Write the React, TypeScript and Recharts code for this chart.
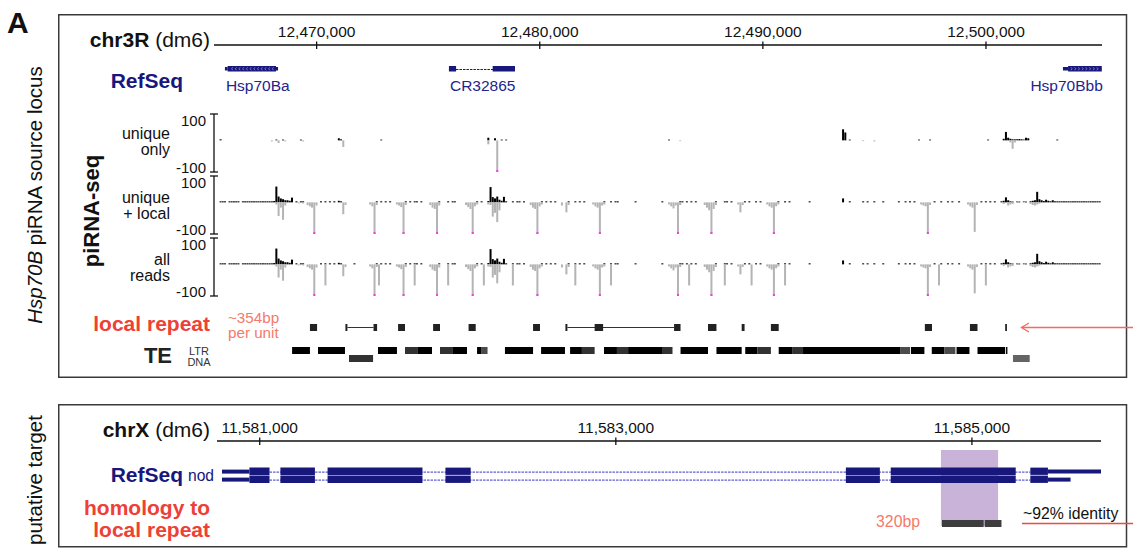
import React from 'react';
import { BarChart, Bar, XAxis, YAxis, Cell, LabelList } from 'recharts';

const W = 1133;
const FONT = '"Liberation Sans", Arial, Helvetica, sans-serif';
const NAVY = '#17177c';
const RED = '#ee4036';
const SALMON = '#f47a6a';
const CLIP = 120; // floor of the piRNA tracks, deeper bars get a magenta tip

// ---------- chr3R (dm6), Hsp70B locus ----------
const chr3rDomain: [number, number] = [12465400, 12505200];
const chr3rTicks = [12470000, 12480000, 12490000, 12500000];

const refGenes = [
  { name: 'Hsp70Ba', start: 12465890, end: 12468270, strand: '-' },
  { name: 'CR32865', start: 12475930, end: 12478890, strand: '+' },
  { name: 'Hsp70Bbb', start: 12503450, end: 12505190, strand: '+' },
];
// [start, end, kind, gene]
const refExons: [number, number, 'utr' | 'cds', string][] = [
  [12465890, 12466010, 'utr', 'Hsp70Ba'],
  [12466010, 12468180, 'cds', 'Hsp70Ba'],
  [12468180, 12468270, 'utr', 'Hsp70Ba'],
  [12475930, 12476250, 'cds', 'CR32865'],
  [12477890, 12478890, 'cds', 'CR32865'],
  [12503450, 12503680, 'utr', 'Hsp70Bbb'],
  [12503680, 12505190, 'cds', 'Hsp70Bbb'],
];

// piRNA coverage: [position, plus-strand reads, minus-strand reads]
type Cov = [number, number, number];
const uniqueOnly: Cov[] = [
  [12465700, 4, 0], [12468000, 0, -4], [12468200, 3, 0], [12468300, 0, -10], [12468500, 3, 0],
  [12468600, 0, -4], [12469300, 3, 0], [12469400, 0, -4], [12471000, 8, 0], [12471100, 4, 0],
  [12471200, 0, -25], [12472900, 3, 0], [12477700, 10, -15], [12478000, 8, 0], [12478100, 0, -260],
  [12478300, 3, 0], [12478500, 3, 0], [12485800, 3, 0], [12486300, 0, -3], [12493600, 42, 0],
  [12493700, 30, 0], [12493900, 3, 0], [12494500, 0, -3], [12495000, 0, -4], [12497000, 3, 0],
  [12497500, 3, 0], [12500100, 3, 0], [12500800, 6, 0], [12500900, 32, 0], [12501000, 10, 0],
  [12501100, 6, -8], [12501200, 4, -32], [12501300, 4, -8], [12501400, 4, 0], [12501500, 5, 0],
  [12501600, 4, 0], [12501700, 3, 0], [12501800, 10, 0], [12501900, 8, 0], [12503200, 3, 0],
];

const uniqueLocal: Cov[] = [
  [12465700, 4, 0], [12465800, 4, 0], [12465900, 4, 0], [12466100, 4, 0], [12466200, 4, 0],
  [12466300, 4, 0], [12466400, 4, 0], [12466500, 4, 0], [12466700, 4, 0], [12466800, 4, 0],
  [12466900, 4, 0], [12467000, 4, 0], [12467100, 4, 0], [12467200, 4, 0], [12467300, 4, 0],
  [12467400, 4, 0], [12467500, 4, 0], [12467600, 4, 0], [12467700, 4, 0], [12467800, 4, 0],
  [12467900, 4, 0], [12468000, 4, 0], [12468100, 5, 0], [12468200, 60, -8], [12468300, 22, -52],
  [12468400, 15, -20], [12468500, 12, -66], [12468600, 8, -12], [12468700, 8, 0], [12468800, 6, 0],
  [12468900, 18, 0], [12469100, 4, 0], [12469200, 0, -4], [12469300, 4, 0], [12469400, 4, -4],
  [12469600, 0, -10], [12469700, 0, -15], [12469800, 0, -20], [12469900, 0, -260], [12470000, 0, -12],
  [12470200, 4, 0], [12470400, 4, 0], [12470600, 4, 0], [12470800, 4, 0], [12471000, 6, 0],
  [12471100, 4, 0], [12471200, 0, -45], [12471300, 0, -10], [12472400, 0, -8], [12472500, 0, -15],
  [12472600, 0, -260], [12472700, 4, -10], [12472900, 4, 0], [12473100, 4, 0], [12473300, 4, 0],
  [12473600, 0, -8], [12473700, 0, -12], [12473800, 0, -18], [12473900, 0, -260], [12474000, 4, -10],
  [12474200, 4, 0], [12474400, 4, 0], [12474500, 4, 0], [12474700, 4, 0], [12475100, 0, -10],
  [12475200, 0, -20], [12475300, 0, -25], [12475400, 0, -260], [12475500, 4, -12], [12475900, 4, 0],
  [12476100, 4, 0], [12476200, 4, 0], [12476700, 0, -10], [12476800, 0, -18], [12476900, 0, -25],
  [12477000, 0, -260], [12477100, 0, -15], [12477200, 4, -8], [12477400, 4, 0], [12477700, 5, -8],
  [12477800, 58, -10], [12477900, 20, -54], [12478000, 15, -40], [12478100, 22, -75], [12478200, 10, -30],
  [12478300, 6, 0], [12478400, 21, 0], [12478500, 4, 0], [12478800, 4, 0], [12479000, 4, 0],
  [12479100, 4, 0], [12479300, 4, 0], [12479600, 0, -10], [12479700, 0, -20], [12479800, 0, -25],
  [12479900, 0, -260], [12480000, 0, -15], [12480100, 4, -8], [12480300, 4, 0], [12480500, 4, 0],
  [12480700, 4, 0], [12481000, 0, -12], [12481200, 0, -38], [12481300, 4, -10], [12481600, 4, 0],
  [12481800, 4, 0], [12482000, 4, 0], [12482400, 0, -8], [12482500, 0, -15], [12482600, 0, -20],
  [12482700, 0, -260], [12482800, 0, -12], [12482900, 4, -8], [12483200, 4, 0], [12483400, 4, 0],
  [12483500, 4, 0], [12484300, 4, 0], [12485500, 4, 0], [12485800, 0, -8], [12485900, 0, -15],
  [12486000, 0, -23], [12486100, 0, -12], [12486200, 0, -260], [12486300, 4, -10], [12486400, 4, 0],
  [12486600, 4, 0], [12486800, 4, 0], [12487000, 4, 0], [12487400, 0, -10], [12487500, 0, -20],
  [12487600, 0, -30], [12487700, 0, -260], [12487800, 0, -25], [12487900, 4, -10], [12488300, 4, 0],
  [12488400, 4, 0], [12488600, 4, 0], [12488900, 0, -8], [12489000, 0, -38], [12489100, 0, -10],
  [12489200, 4, 0], [12489400, 4, 0], [12489700, 4, 0], [12489900, 4, 0], [12490200, 0, -8],
  [12490300, 0, -15], [12490400, 0, -20], [12490500, 0, -260], [12490600, 0, -15], [12490700, 4, -8],
  [12491000, 4, 0], [12491200, 4, 0], [12492100, 4, 0], [12493600, 15, 0], [12493900, 4, 0],
  [12494500, 4, 0], [12494700, 4, 0], [12495000, 4, 0], [12495400, 4, 0], [12496100, 4, 0],
  [12496400, 4, 0], [12496600, 4, 0], [12496800, 4, 0], [12497100, 0, -8], [12497200, 0, -12],
  [12497300, 0, -15], [12497400, 0, -260], [12497500, 0, -10], [12497700, 4, 0], [12498000, 4, 0],
  [12498300, 4, 0], [12498500, 4, 0], [12498800, 4, 0], [12499200, 0, -8], [12499300, 0, -15],
  [12499400, 0, -20], [12499500, 0, -112], [12499600, 0, -10], [12499800, 4, 0], [12500000, 4, 0],
  [12500200, 4, 0], [12500400, 4, 0], [12500700, 4, 0], [12500800, 6, -6], [12500900, 19, 0],
  [12501000, 8, -12], [12501100, 4, -8], [12501200, 3, -6], [12501400, 3, 0], [12501500, 3, 0],
  [12501700, 3, 0], [12501800, 3, 0], [12502000, 4, -6], [12502100, 6, -10], [12502200, 8, -12],
  [12502300, 40, -8], [12502400, 12, -5], [12502500, 8, 0], [12502600, 5, 0], [12502700, 10, 0],
  [12502800, 6, 0], [12502900, 4, 0], [12503000, 8, 0], [12503100, 4, 0], [12503200, 4, 0],
  [12503300, 4, -3], [12503400, 4, 0], [12503500, 4, 0], [12503600, 4, 0], [12503700, 4, 0],
  [12503800, 4, -3], [12503900, 4, 0], [12504000, 4, 0], [12504100, 4, 0], [12504200, 4, 0],
  [12504300, 4, 0], [12504400, 4, -3], [12504500, 4, 0], [12504600, 4, 0], [12504700, 4, 0],
  [12504800, 4, 0], [12504900, 4, 0], [12505000, 4, 0], [12505100, 4, 0],
];

const allReads: Cov[] = [
  [12465700, 4, 0], [12465800, 4, 0], [12465900, 4, 0], [12466100, 4, 0], [12466200, 4, 0],
  [12466300, 4, 0], [12466400, 4, 0], [12466500, 4, 0], [12466700, 4, 0], [12466800, 4, 0],
  [12466900, 4, 0], [12467000, 4, 0], [12467100, 4, 0], [12467200, 4, 0], [12467300, 4, 0],
  [12467400, 4, 0], [12467500, 4, 0], [12467600, 4, 0], [12467700, 4, 0], [12467800, 4, 0],
  [12467900, 4, 0], [12468000, 4, 0], [12468100, 5, 0], [12468200, 60, -8], [12468300, 22, -50],
  [12468400, 15, -20], [12468500, 12, -62], [12468600, 8, -12], [12468700, 8, 0], [12468800, 6, 0],
  [12468900, 18, 0], [12469100, 4, 0], [12469200, 0, -4], [12469300, 4, 0], [12469400, 4, -4],
  [12469600, 0, -10], [12469700, 0, -15], [12469800, 0, -20], [12469900, 0, -260], [12470000, 0, -12],
  [12470200, 4, 0], [12470400, 4, -80], [12470600, 4, 0], [12470800, 4, 0], [12471000, 6, 0],
  [12471100, 4, 0], [12471200, 0, -45], [12471300, 0, -10], [12471700, 4, 0], [12472400, 0, -8],
  [12472500, 0, -15], [12472600, 0, -260], [12472700, 4, -10], [12472800, 0, -80], [12472900, 4, 0],
  [12473100, 4, 0], [12473300, 4, 0], [12473600, 0, -8], [12473700, 0, -12], [12473800, 0, -18],
  [12473900, 0, -260], [12474000, 4, -10], [12474200, 4, 0], [12474400, 4, -80], [12474500, 4, 0],
  [12474700, 4, 0], [12475100, 0, -10], [12475200, 0, -20], [12475300, 0, -25], [12475400, 0, -260],
  [12475500, 4, -12], [12475900, 4, -80], [12476100, 4, 0], [12476200, 4, 0], [12476700, 0, -10],
  [12476800, 0, -18], [12476900, 0, -25], [12477000, 0, -260], [12477100, 0, -15], [12477200, 4, -8],
  [12477400, 4, 0], [12477500, 0, -80], [12477700, 5, -8], [12477800, 58, -10], [12477900, 20, -50],
  [12478000, 15, -40], [12478100, 22, -72], [12478200, 10, -30], [12478300, 6, 0], [12478400, 21, 0],
  [12478500, 4, 0], [12478800, 4, -80], [12479000, 4, 0], [12479100, 4, 0], [12479300, 4, 0],
  [12479600, 0, -10], [12479700, 0, -20], [12479800, 0, -25], [12479900, 0, -260], [12480000, 0, -15],
  [12480100, 4, -8], [12480300, 4, 0], [12480500, 4, 0], [12480700, 4, 0], [12481000, 0, -12],
  [12481200, 0, -38], [12481300, 4, -10], [12481600, 4, -80], [12481800, 4, 0], [12482000, 4, 0],
  [12482400, 0, -8], [12482500, 0, -15], [12482600, 0, -20], [12482700, 0, -260], [12482800, 0, -12],
  [12482900, 4, -8], [12483200, 4, -80], [12483400, 4, 0], [12483500, 4, 0], [12484300, 4, 0],
  [12485500, 4, 0], [12485800, 0, -8], [12485900, 0, -15], [12486000, 0, -23], [12486100, 0, -12],
  [12486200, 0, -260], [12486300, 4, -10], [12486400, 4, 0], [12486600, 4, 0], [12486700, 0, -80],
  [12486800, 4, 0], [12487000, 4, 0], [12487400, 0, -10], [12487500, 0, -20], [12487600, 0, -30],
  [12487700, 0, -260], [12487800, 0, -25], [12487900, 4, -10], [12488300, 4, -80], [12488400, 4, 0],
  [12488600, 4, 0], [12488900, 0, -8], [12489000, 0, -38], [12489100, 0, -10], [12489200, 4, 0],
  [12489400, 4, 0], [12489500, 0, -80], [12489700, 4, 0], [12489900, 4, 0], [12490200, 0, -8],
  [12490300, 0, -15], [12490400, 0, -20], [12490500, 0, -260], [12490600, 0, -15], [12490700, 4, -8],
  [12491000, 4, -80], [12491200, 4, 0], [12492100, 4, 0], [12493600, 15, 0], [12493900, 4, 0],
  [12494500, 4, 0], [12494700, 4, 0], [12495000, 4, 0], [12495400, 4, 0], [12496100, 4, 0],
  [12496400, 4, 0], [12496600, 4, 0], [12496800, 4, 0], [12497100, 0, -8], [12497200, 0, -12],
  [12497300, 0, -15], [12497400, 0, -260], [12497500, 0, -10], [12497700, 4, 0], [12497900, 0, -80],
  [12498000, 4, 0], [12498300, 4, 0], [12498500, 4, 0], [12498800, 4, 0], [12499200, 0, -8],
  [12499300, 0, -15], [12499400, 0, -20], [12499500, 0, -110], [12499600, 0, -10], [12499800, 4, 0],
  [12500000, 4, -80], [12500200, 4, 0], [12500400, 4, 0], [12500700, 4, 0], [12500800, 6, -6],
  [12500900, 19, 0], [12501000, 8, -12], [12501100, 4, -8], [12501200, 3, -6], [12501400, 3, 0],
  [12501500, 3, 0], [12501700, 3, 0], [12501800, 3, 0], [12502000, 4, -6], [12502100, 6, -10],
  [12502200, 8, -12], [12502300, 40, -8], [12502400, 12, -5], [12502500, 8, 0], [12502600, 5, 0],
  [12502700, 10, 0], [12502800, 6, 0], [12502900, 4, 0], [12503000, 8, 0], [12503100, 4, 0],
  [12503200, 4, 0], [12503300, 4, -3], [12503400, 4, 0], [12503500, 4, 0], [12503600, 4, 0],
  [12503700, 4, 0], [12503800, 4, -3], [12503900, 4, 0], [12504000, 4, 0], [12504100, 4, 0],
  [12504200, 4, 0], [12504300, 4, 0], [12504400, 4, -3], [12504500, 4, 0], [12504600, 4, 0],
  [12504700, 4, 0], [12504800, 4, 0], [12504900, 4, 0], [12505000, 4, 0], [12505100, 4, 0],
];

// ~354bp local repeat units, and the gaps that join split units
const repeatUnits: [number, number][] = [
  [12469700, 12470020], [12471290, 12471380], [12472550, 12472710], [12473650, 12473960],
  [12475220, 12475530], [12476810, 12477130], [12479700, 12480010], [12481150, 12481240],
  [12482460, 12482840], [12486020, 12486310], [12487540, 12487920], [12489050, 12489180],
  [12490360, 12490710], [12497260, 12497580], [12499280, 12499620], [12500860, 12500940],
];
const repeatLinks: [number, number][] = [
  [12471380, 12472550],
  [12481240, 12486020],
];

// RepeatMasker hits: [start, end, score]
const teLtr: [number, number, number][] = [
  [12468900, 12469700, 1000], [12470060, 12471270, 1000], [12472750, 12473600, 1000],
  [12473960, 12474540, 800], [12474540, 12475170, 1000], [12475530, 12476110, 800],
  [12476110, 12476740, 1000], [12477190, 12477370, 1000], [12477370, 12477660, 700],
  [12478440, 12479700, 1000], [12480060, 12481130, 1000], [12481360, 12481890, 1000],
  [12481890, 12482460, 800], [12482880, 12483460, 1000], [12483460, 12483960, 800],
  [12483960, 12485480, 1000], [12485480, 12485950, 800], [12486310, 12487540, 1000],
  [12487920, 12489050, 1000], [12489210, 12489760, 1000], [12489760, 12490360, 800],
  [12490710, 12491310, 1000], [12491310, 12491800, 800], [12491800, 12496150, 1000],
  [12496150, 12496600, 700], [12496640, 12497240, 1000], [12497570, 12498140, 1000],
  [12498140, 12498630, 700], [12498680, 12499260, 1000], [12499620, 12500860, 1000],
  [12500900, 12500960, 1000],
];
const teDna: [number, number, number][] = [
  [12471450, 12472530, 800],
  [12501210, 12501960, 600],
];

// ---------- chrX (dm6), nod ----------
const chrXDomain: [number, number] = [11580760, 11585725];
const chrXTicks = [11581000, 11583000, 11585000];

const nodCds: [number, number][] = [
  [11580942, 11581055], [11581116, 11581310], [11581381, 11581914], [11582043, 11582185],
  [11584292, 11584483], [11584544, 11585246], [11585328, 11585427],
];
const nodTranscripts = [
  { row: 1, utrs: [[11580788, 11580942], [11585427, 11585725]] },
  { row: 2, utrs: [[11580788, 11580942], [11585427, 11585554]] },
];
const homologyBlocks: [number, number][] = [
  [11584832, 11585066],
  [11585072, 11585166],
];
const homologyRegion: [number, number] = [11584826, 11585147];

// ---------- shapes ----------
const fmt = (v: number) => Number(v).toLocaleString('en-US');
const ok = (...v: number[]) => v.every(Number.isFinite);

function RulerTick(p: any) {
  const { x, y, payload } = p;
  return (
    <g>
      <line x1={x} x2={x} y1={y - 3.5} y2={y + 4} stroke="#111" strokeWidth={1.3} />
      <text x={x} y={y - 8} textAnchor="middle" fontSize={15.5} fill="#111" fontFamily={FONT}>
        {fmt(payload.value)}
      </text>
    </g>
  );
}

function ScaleTick(p: any) {
  const { x, y, payload } = p;
  const up = payload.value > 0;
  return (
    <g>
      <line x1={x - 4} x2={x + 4} y1={y} y2={y} stroke="#111" strokeWidth={1.3} />
      <text x={x - 8} y={up ? y + 11.5 : y + 0.5} textAnchor="end" fontSize={15} fill="#111" fontFamily={FONT}>
        {payload.value}
      </text>
    </g>
  );
}

function MinusBar(p: any) {
  const { x, y, width, height, payload } = p;
  if (!ok(x, y, width, height) || height === 0) return null;
  const top = Math.min(y, y + height);
  const h = Math.abs(height);
  return (
    <g>
      <rect x={x} y={top} width={width} height={h} fill="#b4b4b4" />
      {payload?.clipped && <rect x={x} y={top + h - 2} width={width} height={2} fill="#f03cf0" />}
    </g>
  );
}

function CdsShape(p: any) {
  const { x, y, width, height, payload } = p;
  if (!ok(x, y, width, height) || width <= 0) return null;
  const cy = y + height / 2;
  const marks: React.ReactNode[] = [];
  if (width > 25) {
    const d = payload?.strand === '-' ? 1.2 : -1.2;
    for (let cx = x + 4; cx < x + width - 3; cx += 3.7) {
      marks.push(
        <polyline key={cx} points={`${cx + d},${cy - 1.5} ${cx},${cy} ${cx + d},${cy + 1.5}`}
          fill="none" stroke="#a4a4e6" strokeWidth={0.7} />,
      );
    }
  }
  return (
    <g>
      <rect x={x} y={y} width={width} height={height} fill={NAVY} />
      {marks}
    </g>
  );
}

const intronShape = (color: string) => (p: any) => {
  const { x, y, width, height } = p;
  if (!ok(x, y, width, height) || width <= 0) return null;
  const cy = y + height / 2;
  return <line x1={x} x2={x + width} y1={cy} y2={cy} stroke={color} strokeWidth={1} strokeDasharray="2.5 1" />;
};

function GeneLabel(p: any) {
  const vb = p.viewBox;
  if (!p.value || !vb || !ok(vb.x, vb.y, vb.width)) return null;
  const atEnd = vb.x + vb.width > W - 60;
  return (
    <text x={atEnd ? vb.x + vb.width + 1 : vb.x + 1} y={vb.y + 22}
      textAnchor={atEnd ? 'end' : 'start'} fontSize={15.5} fill="#24248c" fontFamily={FONT}>
      {p.value}
    </text>
  );
}

const teShade = (score: number) => {
  const v = Math.round((1000 - score) * 0.25);
  return `rgb(${v},${v},${v})`;
};

const covRows = (cov: Cov[]) =>
  cov.map(([pos, plus, minus]) => ({ pos, plus, minus: Math.max(minus, -CLIP), clipped: minus < -CLIP }));

const abs = (top: number): React.CSSProperties => ({ position: 'absolute', left: 0, top });
// numeric row axis for interval strips (row 1 is the upper one)
const rowAxis = (id: string | number, domain: [number, number]) => (
  <YAxis yAxisId={id} type="number" dataKey="row" domain={domain} allowDataOverflow hide />
);

function CoverageTrack({ top, cov }: { top: number; cov: Cov[] }) {
  return (
    <div style={abs(top - 6)}>
      <BarChart width={W} height={70} data={covRows(cov)} stackOffset="sign"
        margin={{ top: 6, right: 31, bottom: 6, left: 174 }}>
        <XAxis type="number" dataKey="pos" domain={chr3rDomain} allowDataOverflow hide />
        <YAxis yAxisId="scale" type="number" domain={[-100, 100]} ticks={[-100, 100]} allowDataOverflow
          width={40} tickSize={0} tickMargin={0} tickLine={false} interval={0}
          axisLine={{ stroke: '#111', strokeWidth: 1.3 }} tick={ScaleTick} />
        <YAxis yAxisId="data" orientation="right" type="number" domain={[-CLIP, 100]} allowDataOverflow hide />
        <Bar yAxisId="data" dataKey="plus" stackId="s" fill="#000" barSize={2} isAnimationActive={false} />
        <Bar yAxisId="data" dataKey="minus" stackId="s" barSize={2} shape={MinusBar} isAnimationActive={false} />
      </BarChart>
    </div>
  );
}

function Overlay() {
  const track = (y1: number, y2: number, a: string, b: string) => (
    <>
      <text x={170} y={y1} textAnchor="end" fontSize={16}>{a}</text>
      <text x={170} y={y2} textAnchor="end" fontSize={16}>{b}</text>
    </>
  );
  return (
    <svg width={W} height={550} style={{ position: 'absolute', left: 0, top: 0 }} fontFamily={FONT} fill="#111">
      <rect x={58.75} y={14.75} width={1067.75} height={362.5} fill="none" stroke="#3a3a3a" strokeWidth={1.5} />
      <rect x={58.75} y={404.75} width={1067.75} height={142} fill="none" stroke="#3a3a3a" strokeWidth={1.5} />
      <text x={7} y={33} fontSize={30} fontWeight="bold">A</text>
      <text transform="translate(42,195) rotate(-90)" textAnchor="middle" fontSize={20.5}>
        <tspan fontStyle="italic">Hsp70B</tspan> piRNA source locus
      </text>
      <text transform="translate(42,480) rotate(-90)" textAnchor="middle" fontSize={20.5}>putative target</text>
      <text transform="translate(98.5,211) rotate(-90)" textAnchor="middle" fontSize={22} fontWeight="bold">piRNA-seq</text>

      <text x={210} y={46.5} textAnchor="end" fontSize={21}>
        <tspan fontWeight="bold">chr3R</tspan> (dm6)
      </text>
      <text x={183} y={88.3} textAnchor="end" fontSize={21} fontWeight="bold" fill={NAVY}>RefSeq</text>
      {track(138.5, 155, 'unique', 'only')}
      {track(202.5, 218.5, 'unique', '+ local')}
      {track(264.5, 281, 'all', 'reads')}
      <text x={210} y={331} textAnchor="end" fontSize={21} fontWeight="bold" fill={RED}>local repeat</text>
      <text x={228} y={322.5} fontSize={15.2} fill={SALMON}>~354bp</text>
      <text x={228} y={337.5} fontSize={15.2} fill={SALMON}>per unit</text>
      <text x={172} y={363} textAnchor="end" fontSize={22} fontWeight="bold" fill="#222">TE</text>
      <text x={199} y={355} textAnchor="middle" fontSize={11} fill="#333">LTR</text>
      <text x={199} y={365.5} textAnchor="middle" fontSize={11} fill="#333">DNA</text>
      <line x1={1021.5} x2={1133} y1={327.5} y2={327.5} stroke="#f26a61" strokeWidth={1.3} />
      <polyline points="1029,323 1021.5,327.5 1029,332" fill="none" stroke="#f26a61" strokeWidth={1.3} />

      <text x={210} y={436.5} textAnchor="end" fontSize={21}>
        <tspan fontWeight="bold">chrX</tspan> (dm6)
      </text>
      <text x={183} y={481.5} textAnchor="end" fontSize={21} fontWeight="bold" fill={NAVY}>RefSeq</text>
      <text x={188} y={481} fontSize={15.6} fill={NAVY}>nod</text>
      <text x={210} y={515} textAnchor="end" fontSize={21} fontWeight="bold" fill={RED}>homology to</text>
      <text x={210} y={536.5} textAnchor="end" fontSize={21} fontWeight="bold" fill={RED}>local repeat</text>
      <text x={920} y={527} textAnchor="end" fontSize={15.8} fill={SALMON}>320bp</text>
      <text x={1023} y={519} fontSize={15.8} fill="#111">~92% identity</text>
      <line x1={1022} x2={1133} y1={523.5} y2={523.5} stroke="#ee4a40" strokeWidth={1.3} />
    </svg>
  );
}

export default function App() {
  const geneRows: any[] = [
    ...refGenes.map((g) => ({ row: 1, span: [g.start, g.end], name: g.name, strand: g.strand })),
    ...refExons.map(([s, e, kind, gene]) => ({
      row: 1,
      [kind]: [s, e],
      strand: refGenes.find((g) => g.name === gene)?.strand,
    })),
  ];
  const repeatRows: any[] = [
    ...repeatUnits.map((u) => ({ row: 1, unit: u })),
    ...repeatLinks.map((l) => ({ row: 1, link: l })),
  ];
  const teRows = [
    ...teLtr.map(([s, e, score]) => ({ row: 1, span: [s, e], score })),
    ...teDna.map(([s, e, score]) => ({ row: 2, span: [s, e], score })),
  ];
  const nodIntron = [nodCds[0][1], nodCds[nodCds.length - 1][0]];
  const nodRows: any[] = [
    ...nodTranscripts.flatMap((t) => [
      { row: t.row, intron: nodIntron },
      ...t.utrs.map((u) => ({ row: t.row, utr: u })),
    ]),
    ...nodTranscripts.flatMap((t) => nodCds.map((c) => ({ row: t.row, cds: c }))),
  ];
  const homologyRows = homologyBlocks.map((b) => ({ row: 1, span: b }));
  const highlightRows = [{ row: 'hl', span: homologyRegion }];

  const m3r = { right: 31, left: 214 };
  const mX = { right: 32, left: 217 };

  return (
    <div style={{ position: 'absolute', left: 0, top: 0, width: W, height: 550, background: '#fff', fontFamily: FONT }}>
      <Overlay />

      {/* chr3R ruler + RefSeq genes */}
      <div style={abs(0)}>
        <BarChart layout="vertical" width={W} height={100} data={geneRows} margin={{ top: 0, bottom: 7, ...m3r }}>
          <XAxis type="number" orientation="top" domain={chr3rDomain} allowDataOverflow ticks={chr3rTicks}
            interval={0} height={45} tickSize={0} tickMargin={0} tickLine={false} tick={RulerTick}
            axisLine={{ stroke: '#111', strokeWidth: 1.3 }} />
          {rowAxis('span', [0, 2])}
          {rowAxis('utr', [0, 2])}
          {rowAxis('cds', [0, 2])}
          <Bar yAxisId="span" dataKey="span" barSize={1} shape={intronShape(NAVY)} isAnimationActive={false}>
            <LabelList dataKey="name" content={GeneLabel} />
          </Bar>
          <Bar yAxisId="utr" dataKey="utr" barSize={3.5} fill={NAVY} isAnimationActive={false} />
          <Bar yAxisId="cds" dataKey="cds" barSize={5.5} shape={CdsShape} isAnimationActive={false} />
        </BarChart>
      </div>

      <CoverageTrack top={114} cov={uniqueOnly} />
      <CoverageTrack top={176} cov={uniqueLocal} />
      <CoverageTrack top={238} cov={allReads} />

      {/* local repeat units */}
      <div style={abs(320)}>
        <BarChart layout="vertical" width={W} height={14} data={repeatRows} margin={{ top: 0, bottom: 0, ...m3r }}>
          <XAxis type="number" domain={chr3rDomain} allowDataOverflow hide />
          {rowAxis('link', [0, 2])}
          {rowAxis('unit', [0, 2])}
          <Bar yAxisId="link" dataKey="link" barSize={1} fill="#333" isAnimationActive={false} />
          <Bar yAxisId="unit" dataKey="unit" barSize={7} fill="#222" isAnimationActive={false} />
        </BarChart>
      </div>

      {/* TE track: LTR row 1, DNA row 2 */}
      <div style={abs(346)}>
        <BarChart layout="vertical" width={W} height={16} data={teRows} margin={{ top: 0, bottom: 0, ...m3r }}>
          <XAxis type="number" domain={chr3rDomain} allowDataOverflow hide />
          {rowAxis(0, [0.5, 2.5])}
          <Bar dataKey="span" barSize={7} isAnimationActive={false}>
            {teRows.map((r, i) => (
              <Cell key={i} fill={teShade(r.score)} />
            ))}
          </Bar>
        </BarChart>
      </div>

      {/* chrX ruler + homology highlight */}
      <div style={abs(400)}>
        <BarChart layout="vertical" width={W} height={135} data={highlightRows} margin={{ top: 0, bottom: 0, ...mX }}>
          <XAxis type="number" orientation="top" domain={chrXDomain} allowDataOverflow ticks={chrXTicks}
            interval={0} height={41} tickSize={0} tickMargin={0} tickLine={false} tick={RulerTick}
            axisLine={{ stroke: '#111', strokeWidth: 1.3 }} />
          <YAxis type="category" dataKey="row" hide />
          <Bar dataKey="span" barSize={76} fill="#c9b3d9" isAnimationActive={false} />
        </BarChart>
      </div>

      {/* nod transcripts */}
      <div style={abs(460)}>
        <BarChart layout="vertical" width={W} height={32} data={nodRows} margin={{ top: 0, bottom: 0, ...mX }}>
          <XAxis type="number" domain={chrXDomain} allowDataOverflow hide />
          {rowAxis('intron', [-0.45, 3.55])}
          {rowAxis('utr', [-0.45, 3.55])}
          {rowAxis('cds', [-0.45, 3.55])}
          <Bar yAxisId="intron" dataKey="intron" barSize={1} shape={intronShape('#3434c8')} isAnimationActive={false} />
          <Bar yAxisId="utr" dataKey="utr" barSize={4} fill={NAVY} isAnimationActive={false} />
          <Bar yAxisId="cds" dataKey="cds" barSize={7.3} fill={NAVY} isAnimationActive={false} />
        </BarChart>
      </div>

      {/* homology to local repeat */}
      <div style={abs(516)}>
        <BarChart layout="vertical" width={W} height={14} data={homologyRows} margin={{ top: 0, bottom: 0, ...mX }}>
          <XAxis type="number" domain={chrXDomain} allowDataOverflow hide />
          {rowAxis(0, [0, 2])}
          <Bar dataKey="span" barSize={7} fill="#3d3d3d" isAnimationActive={false} />
        </BarChart>
      </div>
    </div>
  );
}
